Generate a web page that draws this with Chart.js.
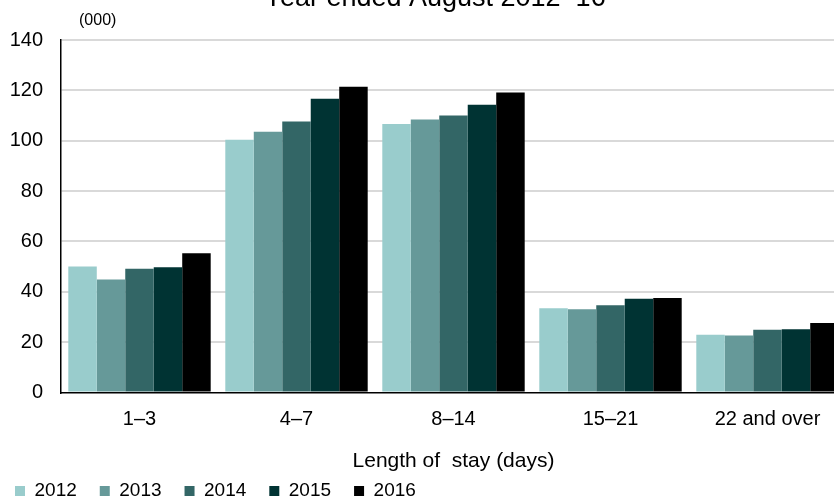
<!DOCTYPE html>
<html>
<head>
<meta charset="utf-8">
<script src="https://cdn.jsdelivr.net/npm/chart.js@4/dist/chart.umd.min.js"></script>
<style>
    html, body { margin: 0; padding: 0; background: #fff; overflow: hidden; width: 834px; height: 499px; }
    #wrap { position: absolute; left: -8px; top: 0; width: 854px; height: 499px; }
</style>
</head>
<body>
<div id="wrap"><canvas id="chart" width="854" height="499"></canvas></div>
<script>
const categories = ['1–3', '4–7', '8–14', '15–21', '22 and over'];
const years = ['2012', '2013', '2014', '2015', '2016'];
const values2012 = [50.0, 100.4, 106.6, 33.5, 22.9];
const values2013 = [44.9, 103.6, 108.4, 33.1, 22.6];
const values2014 = [49.1, 107.6, 110.0, 34.7, 24.9];
const values2015 = [49.7, 116.7, 114.3, 37.2, 25.1];
const values2016 = [55.3, 121.4, 119.1, 37.5, 27.6];
const yTicks = [0, 20, 40, 60, 80, 100, 120, 140];

const colors = ['#99cccc', '#669999', '#336666', '#003333', '#000000'];
const seriesValues = [values2012, values2013, values2014, values2015, values2016];
const FONT = '"Liberation Sans", Arial, sans-serif';

// title (partly cut off at the top) and "(000)" unit label
const headerText = {
    id: 'headerText',
    afterDraw(chart) {
        const ctx = chart.ctx;
        const area = chart.chartArea;
        ctx.save();
        ctx.fillStyle = '#000';
        ctx.textBaseline = 'alphabetic';
        ctx.textAlign = 'center';
        ctx.font = '27px ' + FONT;
        ctx.fillText('Year ended August 2012–16', (area.left + area.right) / 2 - 18.5, 5.5);
        ctx.textAlign = 'left';
        ctx.textBaseline = 'middle';
        ctx.font = '16px ' + FONT;
        ctx.fillText('(000)', area.left + 18, area.top - 19);
        ctx.restore();
    }
};

new Chart(document.getElementById('chart'), {
    type: 'bar',
    data: {
        labels: categories,
        datasets: years.map((year, i) => ({
            label: year,
            data: seriesValues[i],
            backgroundColor: colors[i],
            borderWidth: 0,
            categoryPercentage: 0.907,
            barPercentage: 1
        }))
    },
    options: {
        responsive: false,
        animation: false,
        devicePixelRatio: 1,
        layout: {
            padding: { left: 0, right: 0, top: 40, bottom: -11.5 }
        },
        scales: {
            x: {
                grid: { display: false, drawTicks: false },
                border: { color: '#000', width: 1.5 },
                ticks: { color: '#000', font: { family: FONT, size: 20 }, padding: 14.5 },
                title: {
                    display: true,
                    text: 'Length of  stay (days)',
                    color: '#000',
                    font: { family: FONT, size: 21 },
                    padding: { top: 2.9, bottom: -15.1 }
                }
            },
            y: {
                min: 0,
                max: 140,
                afterBuildTicks: scale => {
                    scale.ticks = yTicks.map(v => ({ value: v }));
                },
                afterFit: scale => {
                    scale.width = 69;
                },
                grid: {
                    color: ctx => ctx.tick && ctx.tick.value === 0 ? 'rgba(0,0,0,0)' : '#d9d9d9',
                    lineWidth: 2,
                    drawTicks: false
                },
                border: { color: '#000', width: 1.5 },
                ticks: { color: '#000', font: { family: FONT, size: 20 }, padding: 18 }
            }
        },
        plugins: {
            title: { display: false },
            legend: {
                position: 'bottom',
                align: 'start',
                labels: {
                    boxWidth: 10,
                    boxHeight: 10,
                    color: '#000',
                    font: { family: FONT, size: 19 },
                    padding: 23
                }
            },
            tooltip: { enabled: false }
        }
    },
    plugins: [headerText]
});
</script>
</body>
</html>
